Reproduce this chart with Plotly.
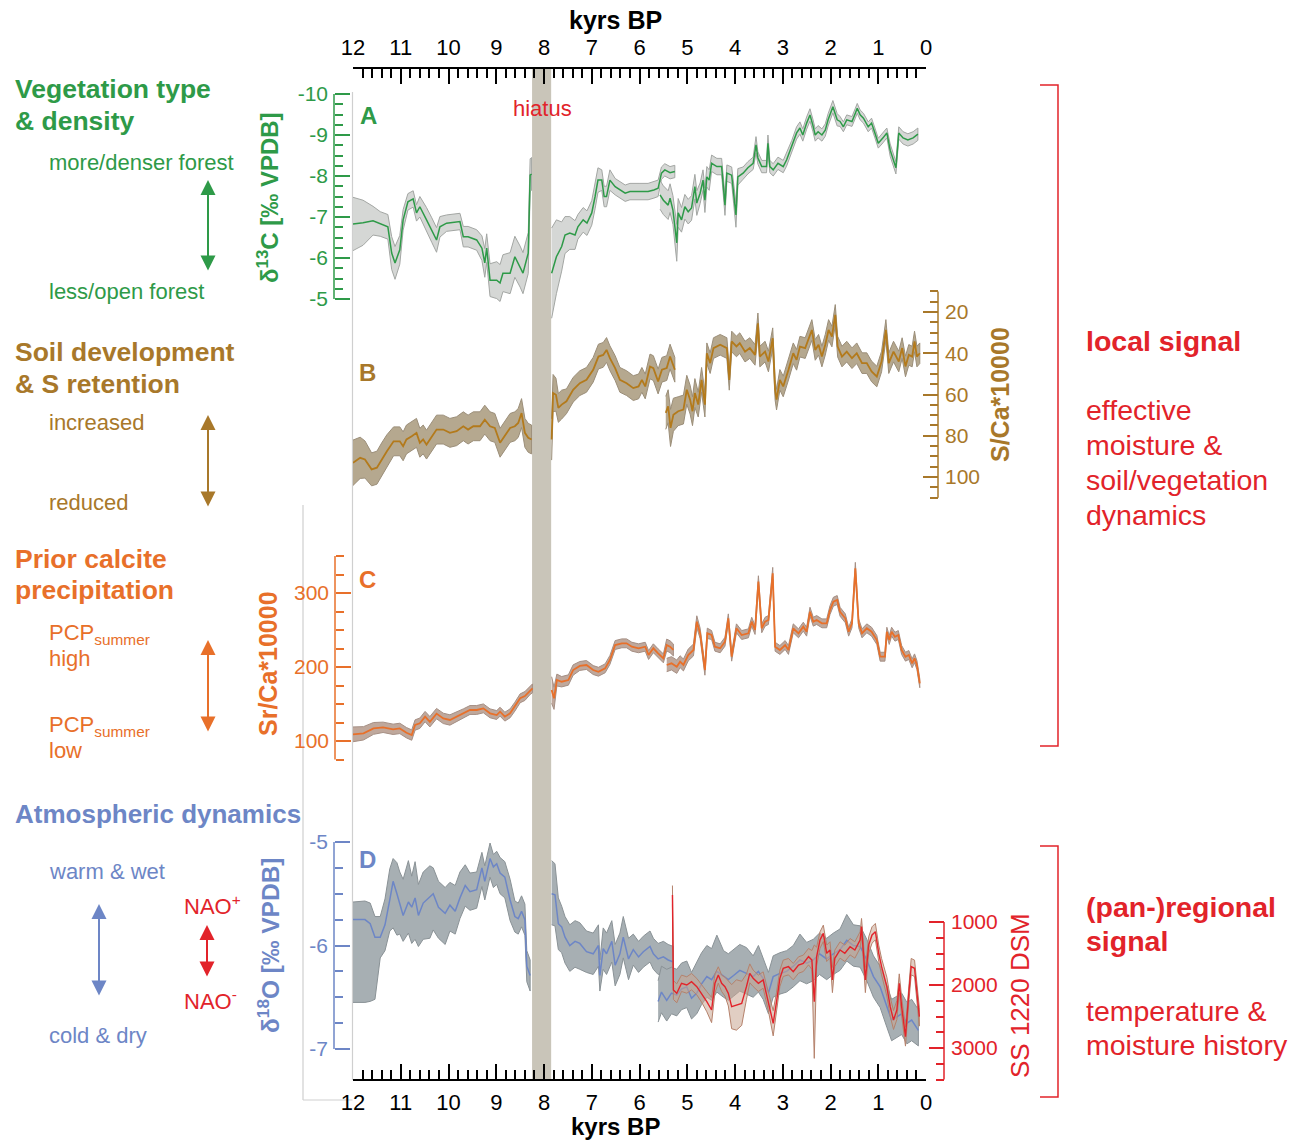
import plotly.graph_objects as go

W, H = 1303, 1140

# ---------------- data (kyrs BP) ----------------
# Panel A: d13C [permil VPDB]
A1_age = [12.0, 11.79, 11.58, 11.43, 11.27, 11.19, 11.12, 11.02, 10.95, 10.85, 10.74, 10.67, 10.6, 10.46, 10.35, 10.25, 10.18, 10.04, 9.76, 9.69, 9.59, 9.41, 9.30, 9.24, 9.20, 9.13, 8.99, 8.92, 8.86, 8.71, 8.61, 8.50, 8.44, 8.33, 8.29, 8.26]
A1_val = [-6.83, -6.86, -6.91, -6.83, -6.76, -6.12, -5.88, -6.2, -6.93, -7.37, -7.44, -7.1, -7.25, -6.93, -6.68, -6.44, -6.76, -6.85, -6.89, -6.52, -6.52, -6.44, -6.24, -5.88, -6.24, -5.46, -5.46, -5.39, -5.63, -5.63, -6.03, -5.79, -5.63, -6.12, -8.02, -8.05]
A1_err = [0.65, 0.55, 0.35, 0.3, 0.3, 0.4, 0.4, 0.35, 0.25, 0.2, 0.2, 0.2, 0.25, 0.3, 0.3, 0.3, 0.25, 0.2, 0.2, 0.25, 0.25, 0.25, 0.3, 0.35, 0.35, 0.4, 0.45, 0.45, 0.45, 0.5, 0.5, 0.5, 0.5, 0.5, 0.4, 0.4]

A2_age = [7.84, 7.74, 7.63, 7.56, 7.46, 7.35, 7.29, 7.18, 7.10, 7.00, 6.93, 6.87, 6.79, 6.74, 6.69, 6.62, 6.51, 6.41, 6.30, 6.20, 5.99, 5.82, 5.70, 5.61, 5.54, 5.47, 5.36, 5.26]
A2_val = [-5.63, -6.03, -6.28, -6.56, -6.61, -6.56, -6.76, -6.93, -6.85, -7.10, -7.5, -7.90, -7.90, -7.5, -7.5, -7.90, -7.74, -7.66, -7.58, -7.62, -7.62, -7.62, -7.66, -7.70, -8.07, -8.15, -8.08, -8.11]
A2_err = [1.1, 0.9, 0.6, 0.45, 0.4, 0.35, 0.3, 0.3, 0.3, 0.3, 0.3, 0.3, 0.25, 0.25, 0.25, 0.25, 0.2, 0.2, 0.2, 0.2, 0.2, 0.2, 0.2, 0.2, 0.15, 0.15, 0.15, 0.15]

A3_age = [5.57, 5.50, 5.40, 5.36, 5.30, 5.22, 5.19, 5.12, 5.05, 4.98, 4.91, 4.84, 4.80, 4.73, 4.67, 4.63, 4.59, 4.54, 4.49, 4.38, 4.28, 4.21, 4.17, 4.07, 3.98, 3.94, 3.83, 3.73, 3.62, 3.56, 3.52, 3.44, 3.34, 3.31, 3.27, 3.20, 3.10, 2.99, 2.92, 2.81, 2.71, 2.64, 2.58, 2.50, 2.43, 2.37, 2.32, 2.26, 2.18, 2.11, 2.05, 1.95, 1.86, 1.80, 1.73, 1.66, 1.55, 1.48, 1.44, 1.38, 1.31, 1.21, 1.14, 1.07, 1.00, 0.90, 0.82, 0.75, 0.69, 0.63, 0.57, 0.48, 0.38, 0.27, 0.17]
A3_val = [-7.54, -7.41, -7.29, -7.46, -7.17, -6.37, -7.1, -6.93, -7.25, -7.13, -7.22, -7.74, -7.34, -7.58, -7.90, -7.41, -7.98, -7.90, -8.31, -8.23, -8.23, -7.29, -8.07, -8.02, -7.05, -7.98, -8.07, -8.20, -8.31, -8.76, -8.44, -8.23, -8.23, -8.80, -8.23, -8.15, -8.31, -8.23, -8.39, -8.72, -9.05, -9.17, -9.0, -9.29, -9.49, -9.24, -9.0, -9.08, -9.0, -9.12, -9.37, -9.69, -9.37, -9.33, -9.2, -9.37, -9.33, -9.53, -9.65, -9.49, -9.41, -9.2, -9.29, -9.05, -8.80, -8.93, -9.05, -8.63, -8.39, -8.20, -9.05, -8.93, -8.88, -8.93, -9.02]
A3_err = [0.35, 0.35, 0.35, 0.35, 0.35, 0.45, 0.35, 0.3, 0.3, 0.3, 0.3, 0.3, 0.3, 0.25, 0.25, 0.3, 0.25, 0.25, 0.2, 0.2, 0.2, 0.25, 0.2, 0.2, 0.3, 0.2, 0.15, 0.15, 0.15, 0.2, 0.15, 0.15, 0.15, 0.2, 0.15, 0.15, 0.15, 0.15, 0.15, 0.15, 0.15, 0.15, 0.15, 0.15, 0.15, 0.15, 0.15, 0.15, 0.15, 0.15, 0.15, 0.15, 0.15, 0.12, 0.12, 0.12, 0.12, 0.12, 0.12, 0.12, 0.12, 0.12, 0.12, 0.12, 0.12, 0.12, 0.12, 0.15, 0.15, 0.15, 0.15, 0.15, 0.15, 0.15, 0.15]

# Panel B: S/Ca*10000
B1_age = [12.0, 11.85, 11.75, 11.61, 11.50, 11.40, 11.29, 11.15, 11.02, 10.95, 10.88, 10.77, 10.67, 10.60, 10.53, 10.46, 10.35, 10.25, 10.11, 9.97, 9.83, 9.69, 9.59, 9.48, 9.34, 9.24, 9.13, 9.03, 8.92, 8.82, 8.71, 8.61, 8.54, 8.47, 8.40, 8.33, 8.26]
B1_val = [93.1, 90.7, 91.5, 96.3, 95.5, 91.5, 87.5, 82.7, 82.7, 85.1, 81.8, 80.2, 78.6, 83.4, 81.8, 84.3, 80.2, 77.0, 77.0, 78.6, 77.8, 75.4, 77.0, 75.4, 75.4, 72.2, 75.4, 76.2, 83.4, 80.2, 76.2, 75.4, 73.8, 69.0, 78.6, 81.0, 81.8]
B1_err = [11, 10, 9, 8, 8, 8, 8, 7, 7, 7, 7, 7, 7, 7, 7, 7, 7, 7, 7, 7, 7, 7, 7, 7, 7, 7, 7, 7, 7, 7, 7, 7, 7, 7, 7, 7, 7]

B2_age = [7.84, 7.81, 7.75, 7.70, 7.63, 7.53, 7.39, 7.25, 7.11, 6.97, 6.86, 6.76, 6.69, 6.62, 6.51, 6.41, 6.27, 6.13, 6.02, 5.95, 5.88, 5.78, 5.71, 5.61, 5.53, 5.43, 5.36, 5.26]
B2_val = [81.8, 59.3, 60.1, 66.5, 64.9, 63.3, 57.7, 54.5, 52.9, 48.0, 41.6, 40.8, 38.4, 42.4, 47.2, 52.9, 54.5, 56.9, 56.1, 52.9, 56.1, 46.4, 47.2, 53.7, 48.0, 47.2, 41.6, 48.0]
B2_err = [10, 9, 8, 7, 7, 6, 6, 6, 6, 6, 6, 6, 6, 6, 6, 6, 6, 6, 6, 6, 6, 6, 6, 6, 6, 6, 6, 6]

B3_age = [5.45, 5.40, 5.35, 5.29, 5.19, 5.08, 5.01, 4.94, 4.89, 4.84, 4.77, 4.70, 4.63, 4.59, 4.52, 4.45, 4.31, 4.17, 4.12, 4.07, 3.97, 3.90, 3.79, 3.69, 3.58, 3.52, 3.48, 3.37, 3.30, 3.21, 3.16, 3.13, 3.06, 2.99, 2.88, 2.78, 2.71, 2.64, 2.53, 2.46, 2.39, 2.32, 2.25, 2.18, 2.11, 2.04, 1.97, 1.90, 1.85, 1.76, 1.66, 1.55, 1.45, 1.34, 1.24, 1.14, 1.03, 0.93, 0.84, 0.78, 0.68, 0.57, 0.50, 0.43, 0.36, 0.29, 0.24, 0.19, 0.13]
B3_val = [68.9, 65.7, 76.2, 69.8, 68.1, 67.3, 57.7, 62.5, 68.1, 59.3, 64.9, 52.9, 64.9, 40.0, 44.8, 37.5, 35.9, 37.5, 52.9, 34.3, 36.7, 35.1, 39.2, 37.5, 40.8, 25.5, 41.6, 39.2, 44.0, 32.7, 57.7, 62.5, 52.9, 56.1, 48.0, 40.0, 43.2, 36.8, 37.5, 33.5, 28.7, 38.4, 35.9, 41.6, 35.9, 28.7, 31.9, 21.4, 36.8, 41.6, 39.2, 42.4, 40.0, 44.8, 44.8, 48.8, 51.3, 44.0, 28.7, 44.8, 39.2, 44.0, 37.5, 46.4, 40.8, 41.6, 34.3, 41.6, 40.0]
B3_err = [8, 8, 9, 8, 7, 7, 7, 7, 7, 7, 6, 6, 6, 5, 5, 5, 5, 5, 5, 5, 5, 5, 5, 5, 5, 5, 5, 5, 5, 5, 5, 5, 5, 5, 5, 5, 5, 5, 5, 5, 5, 5, 5, 5, 5, 5, 5, 5, 5, 5, 5, 5, 5, 5, 5, 5, 5, 5, 5, 5, 5, 5, 5, 5, 5, 5, 5, 5, 5]

# Panel C: Sr/Ca*10000
C1_age = [12.0, 11.78, 11.57, 11.37, 11.16, 11.02, 10.88, 10.77, 10.70, 10.60, 10.49, 10.39, 10.25, 10.11, 9.97, 9.83, 9.69, 9.55, 9.41, 9.27, 9.13, 8.99, 8.92, 8.82, 8.71, 8.61, 8.50, 8.40, 8.29, 8.24]
C1_val = [109, 110.4, 117, 118.5, 115.8, 117, 111.2, 108, 121.6, 124, 133, 126, 137, 130.6, 128.4, 132.9, 137.4, 141.9, 141.9, 144.1, 137.4, 135.1, 139.6, 132.9, 137.4, 146.4, 157.7, 160.8, 168.9, 171.2]
C1_err = [10, 9, 8, 7, 7, 7, 7, 7, 7, 7, 7, 7, 7, 7, 7, 6, 6, 6, 6, 6, 6, 6, 6, 6, 6, 6, 6, 6, 6, 6]

C2_age = [7.84, 7.79, 7.73, 7.63, 7.49, 7.39, 7.25, 7.11, 6.97, 6.86, 6.72, 6.62, 6.51, 6.37, 6.27, 6.16, 6.02, 5.88, 5.81, 5.71, 5.61, 5.57, 5.50, 5.43, 5.36, 5.29]
C2_val = [168.9, 157.7, 182.4, 180.1, 182.4, 195.9, 201.4, 202.7, 195.9, 193.6, 198.2, 209.5, 229.7, 232, 232, 227.4, 225.3, 227.4, 216.2, 225.3, 218.5, 216.2, 211.7, 229.7, 227.4, 223]
C2_err = [18, 15, 8, 7, 7, 7, 6, 6, 6, 6, 6, 6, 6, 6, 6, 6, 6, 6, 6, 6, 6, 6, 6, 8, 8, 8]

C3_age = [5.43, 5.33, 5.22, 5.15, 5.08, 4.98, 4.87, 4.80, 4.73, 4.68, 4.63, 4.58, 4.49, 4.42, 4.31, 4.21, 4.14, 4.07, 3.97, 3.86, 3.72, 3.65, 3.58, 3.51, 3.44, 3.37, 3.30, 3.21, 3.16, 3.06, 2.95, 2.88, 2.78, 2.67, 2.57, 2.50, 2.43, 2.36, 2.29, 2.18, 2.08, 2.01, 1.94, 1.86, 1.80, 1.69, 1.62, 1.55, 1.48, 1.41, 1.34, 1.24, 1.14, 1.03, 0.96, 0.86, 0.82, 0.77, 0.72, 0.65, 0.58, 0.51, 0.43, 0.36, 0.29, 0.24, 0.19, 0.13]
C3_val = [202.7, 205, 200.4, 207.2, 202.7, 216.2, 223, 261.2, 245.5, 223, 195.9, 245.5, 243.2, 227.4, 225.3, 234.2, 265.8, 213.9, 252.3, 243.2, 245.5, 261.2, 250, 315.3, 252.3, 261.2, 263.5, 326.6, 227.4, 223, 229.7, 223, 252.3, 245.5, 254.5, 247.7, 274.7, 261.2, 263.5, 259, 259, 277, 288.2, 290.5, 274.7, 265.8, 247.7, 259, 333.4, 259, 245.5, 252.3, 247.7, 236.5, 213.9, 213.9, 247.7, 236.5, 247.7, 240.9, 243.2, 223, 213.9, 216.2, 205, 211.7, 202.7, 178]
C3_err = [9, 9, 9, 8, 8, 8, 8, 8, 7, 7, 7, 7, 6, 6, 6, 6, 6, 6, 6, 6, 6, 6, 6, 8, 6, 6, 6, 8, 6, 6, 6, 6, 6, 6, 6, 6, 6, 6, 6, 6, 6, 6, 6, 6, 6, 6, 6, 6, 8, 6, 6, 6, 6, 6, 6, 6, 6, 6, 6, 6, 6, 6, 6, 6, 6, 6, 6, 6]

# Panel D: d18O [permil VPDB] (band offsets above / below the line)
D1_age = [12.0, 11.75, 11.64, 11.54, 11.43, 11.33, 11.23, 11.16, 11.08, 11.02, 10.95, 10.84, 10.77, 10.70, 10.63, 10.53, 10.39, 10.32, 10.21, 10.07, 9.97, 9.86, 9.76, 9.65, 9.55, 9.41, 9.30, 9.24, 9.13, 9.06, 8.99, 8.92, 8.82, 8.71, 8.61, 8.54, 8.47, 8.40, 8.36, 8.29]
D1_val = [-5.75, -5.75, -5.79, -5.92, -5.92, -5.80, -5.56, -5.38, -5.50, -5.59, -5.71, -5.58, -5.63, -5.54, -5.71, -5.59, -5.53, -5.50, -5.63, -5.69, -5.61, -5.67, -5.54, -5.42, -5.48, -5.46, -5.25, -5.38, -5.16, -5.24, -5.21, -5.30, -5.34, -5.56, -5.72, -5.74, -5.67, -5.75, -6.20, -6.29]
D1_hi = [0.17, 0.18, 0.2, 0.2, 0.2, 0.25, 0.3, 0.22, 0.3, 0.3, 0.35, 0.4, 0.3, 0.35, 0.3, 0.3, 0.3, 0.25, 0.25, 0.25, 0.22, 0.25, 0.25, 0.2, 0.18, 0.17, 0.15, 0.15, 0.15, 0.12, 0.12, 0.15, 0.15, 0.2, 0.15, 0.15, 0.15, 0.15, 0.15, 0.15]
D1_lo = [0.8, 0.8, 0.75, 0.6, 0.2, 0.25, 0.3, 0.45, 0.4, 0.3, 0.25, 0.3, 0.35, 0.4, 0.3, 0.35, 0.4, 0.35, 0.3, 0.3, 0.25, 0.22, 0.2, 0.2, 0.18, 0.18, 0.18, 0.18, 0.18, 0.2, 0.2, 0.2, 0.2, 0.2, 0.15, 0.15, 0.15, 0.15, 0.15, 0.15]

D2_age = [7.84, 7.77, 7.70, 7.63, 7.56, 7.46, 7.35, 7.25, 7.11, 6.97, 6.86, 6.83, 6.76, 6.69, 6.58, 6.51, 6.41, 6.34, 6.23, 6.13, 6.02, 5.92, 5.78, 5.71, 5.61, 5.50, 5.40, 5.29]
D2_val = [-5.50, -5.51, -5.79, -5.82, -5.92, -6.0, -5.96, -5.98, -6.06, -6.08, -6.0, -6.29, -6.03, -6.08, -5.96, -6.19, -6.08, -5.92, -6.13, -6.04, -6.11, -6.06, -6.01, -6.08, -6.13, -6.11, -6.14, -6.16]
D2_hi = [0.32, 0.3, 0.25, 0.2, 0.2, 0.2, 0.2, 0.2, 0.2, 0.2, 0.2, 0.15, 0.2, 0.2, 0.2, 0.2, 0.2, 0.2, 0.2, 0.15, 0.15, 0.15, 0.15, 0.15, 0.15, 0.15, 0.15, 0.15]
D2_lo = [0.3, 0.3, 0.25, 0.25, 0.25, 0.25, 0.25, 0.25, 0.2, 0.2, 0.2, 0.15, 0.2, 0.2, 0.2, 0.2, 0.2, 0.2, 0.2, 0.15, 0.15, 0.15, 0.15, 0.15, 0.15, 0.15, 0.15, 0.15]

D3_age = [5.61, 5.54, 5.43, 5.33, 5.22, 5.12, 5.01, 4.91, 4.80, 4.70, 4.59, 4.49, 4.38, 4.24, 4.14, 4.03, 3.90, 3.76, 3.62, 3.51, 3.41, 3.30, 3.20, 3.06, 2.92, 2.78, 2.64, 2.50, 2.36, 2.23, 2.08, 1.94, 1.80, 1.66, 1.52, 1.38, 1.24, 1.10, 0.96, 0.82, 0.72, 0.61, 0.51, 0.40, 0.30, 0.16]
D3_val = [-6.54, -6.45, -6.53, -6.46, -6.48, -6.42, -6.40, -6.51, -6.46, -6.37, -6.30, -6.33, -6.25, -6.30, -6.33, -6.29, -6.24, -6.27, -6.30, -6.25, -6.32, -6.46, -6.30, -6.27, -6.25, -6.20, -6.14, -6.17, -6.14, -6.08, -6.13, -6.08, -6.04, -5.95, -6.0, -6.01, -6.14, -6.30, -6.40, -6.59, -6.72, -6.69, -6.66, -6.75, -6.72, -6.82]
D3_hi = [0.2, 0.25, 0.3, 0.25, 0.25, 0.25, 0.25, 0.25, 0.3, 0.3, 0.3, 0.3, 0.35, 0.25, 0.25, 0.25, 0.25, 0.25, 0.2, 0.25, 0.2, 0.2, 0.2, 0.2, 0.2, 0.2, 0.25, 0.2, 0.2, 0.2, 0.2, 0.2, 0.2, 0.25, 0.2, 0.2, 0.2, 0.2, 0.2, 0.2, 0.2, 0.2, 0.2, 0.2, 0.2, 0.2]
D3_lo = [0.2, 0.2, 0.2, 0.2, 0.2, 0.2, 0.2, 0.2, 0.2, 0.2, 0.2, 0.2, 0.2, 0.2, 0.2, 0.2, 0.2, 0.2, 0.2, 0.2, 0.2, 0.2, 0.2, 0.2, 0.2, 0.2, 0.2, 0.2, 0.2, 0.2, 0.2, 0.2, 0.2, 0.2, 0.2, 0.2, 0.2, 0.2, 0.2, 0.2, 0.2, 0.2, 0.2, 0.2, 0.2, 0.15]

# SS 1220 DSM record
S_age = [5.31, 5.29, 5.22, 5.12, 5.01, 4.91, 4.80, 4.70, 4.59, 4.49, 4.42, 4.35, 4.28, 4.21, 4.14, 4.07, 3.97, 3.86, 3.76, 3.69, 3.62, 3.51, 3.41, 3.30, 3.20, 3.13, 3.06, 2.99, 2.88, 2.78, 2.67, 2.57, 2.46, 2.39, 2.34, 2.29, 2.22, 2.15, 2.08, 2.01, 1.96, 1.91, 1.80, 1.70, 1.59, 1.49, 1.38, 1.35, 1.27, 1.20, 1.13, 1.06, 0.99, 0.93, 0.82, 0.75, 0.68, 0.61, 0.56, 0.51, 0.43, 0.36, 0.31, 0.24, 0.19, 0.14]
S_val = [571, 2079, 2132, 1973, 2000, 1947, 2026, 2132, 2265, 2397, 1973, 1841, 1973, 2026, 2132, 2344, 2317, 2291, 2026, 1815, 1894, 1973, 1921, 2265, 2608, 2265, 1894, 1735, 1709, 1788, 1683, 1656, 1550, 1603, 2265, 1550, 1286, 1180, 1497, 1444, 1921, 1577, 1444, 1497, 1392, 1444, 1286, 1074, 1921, 1365, 1206, 1153, 1497, 1709, 2026, 2344, 2556, 2397, 1973, 2344, 2820, 2132, 1709, 1735, 2132, 2503]
S_err = [150, 150, 150, 130, 130, 130, 130, 140, 160, 200, 150, 130, 130, 150, 200, 350, 400, 350, 200, 150, 130, 130, 130, 150, 200, 150, 130, 130, 130, 130, 130, 130, 130, 150, 900, 150, 130, 130, 130, 130, 200, 130, 130, 130, 130, 130, 130, 130, 200, 130, 130, 130, 130, 130, 150, 150, 150, 150, 150, 150, 150, 150, 130, 130, 150, 150]

X_TICKS = [12, 11, 10, 9, 8, 7, 6, 5, 4, 3, 2, 1, 0]
HIATUS = [8.25, 7.85]

# ---------------- styles ----------------
GREEN = '#2E9A48'
BROWN = '#A8782A'
BROWN_LINE = '#B37A1C'
ORANGE = '#E8702A'
BLUE = '#6D86C6'
RED = '#E2232A'
FONT = 'Liberation Sans, Arial, sans-serif'


def px_x(p):
    return p / W


def px_y(p):
    return 1 - p / H


fig = go.Figure()


def band(age, val, e_lo, e_hi, yax, fill, edge):
    up = [v + e for v, e in zip(val, e_hi)]
    lo = [v - e for v, e in zip(val, e_lo)]
    fig.add_trace(go.Scatter(x=list(age) + list(age)[::-1], y=up + lo[::-1], mode='lines',
                             fill='toself', fillcolor=fill, line=dict(color=edge, width=1),
                             xaxis='x', yaxis=yax, hoverinfo='skip', showlegend=False))


def line(age, val, yax, color, width=1.6):
    fig.add_trace(go.Scatter(x=age, y=val, mode='lines', line=dict(color=color, width=width),
                             xaxis='x', yaxis=yax, hoverinfo='skip', showlegend=False))


# Panel A
for a, v, e in [(A1_age, A1_val, A1_err), (A2_age, A2_val, A2_err), (A3_age, A3_val, A3_err)]:
    band(a, v, e, e, 'y', '#D5D7D5', '#A3A6A3')
for a, v in [(A1_age, A1_val), (A2_age, A2_val), (A3_age, A3_val)]:
    line(a, v, 'y', GREEN, 1.5)
# Panel B
for a, v, e in [(B1_age, B1_val, B1_err), (B2_age, B2_val, B2_err), (B3_age, B3_val, B3_err)]:
    band(a, v, e, e, 'y2', '#B5A88F', '#9B8E79')
for a, v in [(B1_age, B1_val), (B2_age, B2_val), (B3_age, B3_val)]:
    line(a, v, 'y2', BROWN_LINE, 1.8)
# Panel C
for a, v, e in [(C1_age, C1_val, C1_err), (C2_age, C2_val, C2_err), (C3_age, C3_val, C3_err)]:
    band(a, v, e, e, 'y3', '#BFA89C', '#A58F84')
for a, v in [(C1_age, C1_val), (C2_age, C2_val), (C3_age, C3_val)]:
    line(a, v, 'y3', ORANGE, 1.8)
# Panel D
for a, v, lo, hi in [(D1_age, D1_val, D1_lo, D1_hi), (D2_age, D2_val, D2_lo, D2_hi), (D3_age, D3_val, D3_lo, D3_hi)]:
    band(a, v, lo, hi, 'y4', '#A7AFB3', '#8A9296')
band(S_age, S_val, S_err, S_err, 'y5', 'rgba(200,165,145,0.55)', '#B5826C')
for a, v in [(D1_age, D1_val), (D2_age, D2_val), (D3_age, D3_val)]:
    line(a, v, 'y4', BLUE, 1.5)
line(S_age, S_val, 'y5', RED, 1.4)

# dummy trace to carry the top x axis
fig.add_trace(go.Scatter(x=[12, 0], y=[-7, -7], xaxis='x2', yaxis='y', mode='markers',
                         marker=dict(opacity=0), hoverinfo='skip', showlegend=False))


def yaxis_cfg(va, pa, vb, pb, top, bot, xpos, side, color, major, labels, minor):
    s = (pb - pa) / (vb - va)
    vt = va + (top - pa) / s
    vbm = va + (bot - pa) / s
    return dict(domain=[px_y(bot), px_y(top)], range=[vbm, vt], anchor='free', position=px_x(xpos),
                side=side, showline=False, showgrid=False, zeroline=False, automargin=False,
                tickmode='array', tickvals=major, ticktext=labels, ticks='inside', ticklen=15,
                tickwidth=1.5, tickcolor=color, tickfont=dict(color=color, size=21, family=FONT),
                ticklabelstandoff=6,
                minor=dict(tickmode='array', tickvals=minor, ticks='inside', ticklen=8,
                           tickwidth=1.5, tickcolor=color, showgrid=False),
                fixedrange=True)


A_major = [-10, -9, -8, -7, -6, -5]
A_minor = [-9.75, -9.5, -9.25, -8.75, -8.5, -8.25, -7.75, -7.5, -7.25, -6.75, -6.5, -6.25, -5.75, -5.5, -5.25]
B_major = [20, 40, 60, 80, 100]
B_minor = [10, 15, 25, 30, 35, 45, 50, 55, 65, 70, 75, 85, 90, 95, 105, 110]
C_major = [100, 200, 300]
C_minor = [75, 125, 150, 175, 225, 250, 275, 325, 350]
D_major = [-5, -6, -7]
D_minor = [-5.25, -5.5, -5.75, -6.25, -6.5, -6.75]
S_major = [1000, 2000, 3000]
S_minor = [1250, 1500, 1750, 2250, 2500, 2750, 3250, 3500]

xcommon = dict(domain=[px_x(353), px_x(926)], range=[12, 0], showgrid=False, zeroline=False,
               showline=True, linecolor='black', linewidth=2, ticks='inside', ticklen=15, tickwidth=1.5,
               tickcolor='black', tickmode='array', tickvals=X_TICKS, ticktext=[str(t) for t in X_TICKS],
               tickfont=dict(size=22, color='black', family=FONT), ticklabelstandoff=3,
               minor=dict(dtick=0.2, tick0=0, ticks='inside', ticklen=9, tickwidth=1.5, tickcolor='black'),
               anchor='free', fixedrange=True, automargin=False)

fig.update_layout(
    template='none',
    width=W, height=H, autosize=False, margin=dict(l=0, r=0, t=0, b=0, pad=0, autoexpand=False),
    paper_bgcolor='white', plot_bgcolor='rgba(0,0,0,0)', font=dict(family=FONT),
    showlegend=False,
    xaxis=dict(xcommon, side='bottom', position=px_y(1080)),
    xaxis2=dict(xcommon, side='top', position=px_y(68), overlaying='x'),
    yaxis=yaxis_cfg(-10, 94, -5, 299, 84, 342, 334, 'left', GREEN, A_major, [str(v) for v in A_major], A_minor),
    yaxis2=yaxis_cfg(20, 312, 100, 477, 285, 502, 938, 'right', BROWN, B_major, [str(v) for v in B_major], B_minor),
    yaxis3=yaxis_cfg(300, 593, 100, 741, 550, 762, 335, 'left', ORANGE, C_major, [str(v) for v in C_major], C_minor),
    yaxis4=yaxis_cfg(-5, 842, -7, 1049, 830, 1062, 334, 'left', BLUE, D_major, [str(v) for v in D_major], D_minor),
    yaxis5=yaxis_cfg(1000, 922, 3000, 1048, 868, 1082, 944, 'right', RED, S_major, [str(v) for v in S_major], S_minor),
)

shapes = []
# hiatus band
shapes.append(dict(type='rect', xref='x', yref='paper', x0=HIATUS[0], x1=HIATUS[1], y0=px_y(1080), y1=px_y(68),
                   fillcolor='#C9C5B9', line=dict(width=0), layer='below'))
# light grey frame lines
for (x0, y0, x1, y1) in [(352.5, 92, 352.5, 1080), (303, 505, 303, 1100), (303, 1100, 352.5, 1100)]:
    shapes.append(dict(type='line', xref='paper', yref='paper', x0=px_x(x0), x1=px_x(x1), y0=px_y(y0), y1=px_y(y1),
                       line=dict(color='#CFCFCF', width=1.2), layer='below'))
# y axis lines
for (xpos, yref, v0, v1, col) in [(334, 'y', -10, -5, GREEN), (938, 'y2', 10, 110, BROWN), (335, 'y3', 75, 350, ORANGE),
                                  (334, 'y4', -5, -7, BLUE), (944, 'y5', 1000, 3500, RED)]:
    shapes.append(dict(type='line', xref='paper', yref=yref, x0=px_x(xpos), x1=px_x(xpos), y0=v0, y1=v1,
                       line=dict(color=col, width=1.5)))
# red brackets
for (t, b) in [(85, 746), (846, 1097)]:
    path = 'M {:.5f},{:.5f} L {:.5f},{:.5f} L {:.5f},{:.5f} L {:.5f},{:.5f}'.format(
        px_x(1040), px_y(t), px_x(1058), px_y(t), px_x(1058), px_y(b), px_x(1040), px_y(b))
    shapes.append(dict(type='path', xref='paper', yref='paper', path=path, line=dict(color=RED, width=1.5)))
fig.update_layout(shapes=shapes)

ann = []


def text(x, y, s, color, size, bold=False, xanchor='left', yanchor='middle', angle=0):
    if bold:
        s = '<b>' + s + '</b>'
    ann.append(dict(x=px_x(x), y=px_y(y), xref='paper', yref='paper', text=s, showarrow=False,
                    xanchor=xanchor, yanchor=yanchor, textangle=angle, align='left', borderpad=0,
                    font=dict(color=color, size=size, family=FONT)))


def arrow(x, y0, y1, color):
    ann.append(dict(x=px_x(x), y=px_y(y0), xref='paper', yref='paper', ax=0, ay=y1 - y0, axref='pixel', ayref='pixel',
                    text='', showarrow=True, arrowhead=2, arrowside='end+start', arrowsize=1.5,
                    arrowwidth=2, arrowcolor=color, standoff=0, startstandoff=0))


# axis titles (x)
text(615, 20, 'kyrs BP', 'black', 25, bold=True, xanchor='center')
text(615, 1126, 'kyrs BP', 'black', 24, bold=True, xanchor='center')
# y axis titles
text(268, 198, 'δ<sup>13</sup>C [‰ VPDB]', GREEN, 24, bold=True, xanchor='center', angle=-90)
text(1000, 395, 'S/Ca*10000', BROWN, 25, bold=True, xanchor='center', angle=-90)
text(268, 664, 'Sr/Ca*10000', ORANGE, 25, bold=True, xanchor='center', angle=-90)
text(268, 945, 'δ<sup>18</sup>O [‰ VPDB]', BLUE, 24.5, bold=True, xanchor='center', angle=-90)
text(1020, 996, 'SS 1220 DSM', RED, 26, xanchor='center', angle=-90)
# panel letters
text(368, 116, 'A', GREEN, 24, bold=True, xanchor='center')
text(367, 372, 'B', BROWN, 24, bold=True, xanchor='center')
text(367, 579, 'C', ORANGE, 24, bold=True, xanchor='center')
text(367, 859, 'D', BLUE, 24, bold=True, xanchor='center')
text(542, 109, 'hiatus', RED, 22, xanchor='center')
# left descriptions
text(14, 89, 'Vegetation type', GREEN, 26.5, bold=True)
text(14, 121, '& density', GREEN, 26.5, bold=True)
text(48, 162, 'more/denser forest', GREEN, 22)
text(48, 291, 'less/open forest', GREEN, 22)
arrow(208, 180, 272, GREEN)
text(14, 352, 'Soil development', BROWN, 26.5, bold=True)
text(14, 384, '& S retention', BROWN, 26.5, bold=True)
text(48, 423, 'increased', BROWN, 22)
text(48, 502, 'reduced', BROWN, 22)
arrow(208, 415, 508, BROWN)
text(14, 559, 'Prior calcite', ORANGE, 26.5, bold=True)
text(14, 590, 'precipitation', ORANGE, 26.5, bold=True)
text(48, 634, 'PCP<sub>summer</sub>', ORANGE, 22)
text(48, 658, 'high', ORANGE, 22)
text(48, 726, 'PCP<sub>summer</sub>', ORANGE, 22)
text(48, 750, 'low', ORANGE, 22)
arrow(208, 640, 733, ORANGE)
text(14, 814, 'Atmospheric dynamics', BLUE, 26, bold=True)
text(48, 871, 'warm & wet', BLUE, 22)
text(48, 1035, 'cold & dry', BLUE, 22)
arrow(99, 904, 997, BLUE)
text(183, 905, 'NAO<sup>+</sup>', RED, 22)
text(183, 1000, 'NAO<sup>-</sup>', RED, 22)
arrow(207, 925, 978, RED)
# right descriptions
text(1085, 341, 'local signal', RED, 28.5, bold=True)
for yy, s in [(410, 'effective'), (445, 'moisture &'), (480, 'soil/vegetation'), (515, 'dynamics')]:
    text(1085, yy, s, RED, 28.5)
text(1085, 907, '(pan-)regional', RED, 28.5, bold=True)
text(1085, 941, 'signal', RED, 28.5, bold=True)
text(1085, 1011, 'temperature &', RED, 28.5)
text(1085, 1045, 'moisture history', RED, 28.5)

fig.update_layout(annotations=ann)
fig.write_html('out.html')
